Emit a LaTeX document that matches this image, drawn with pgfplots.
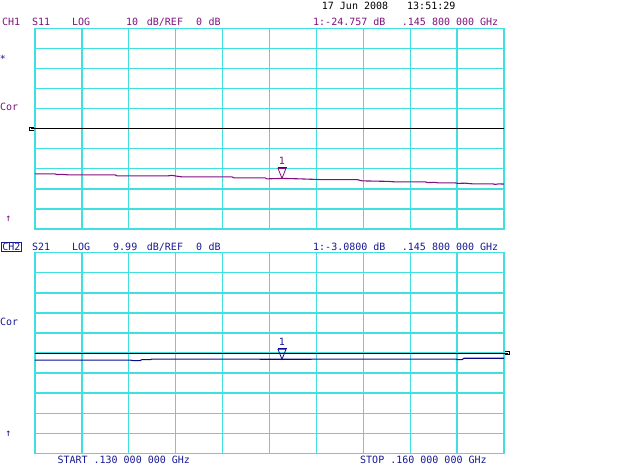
\documentclass[border=0pt]{standalone}
\usepackage{pgfplots}
\pgfplotsset{compat=1.18}
\usepackage{fontspec}
\setmainfont{DejaVu Sans Mono}
\definecolor{gridc}{RGB}{64,224,224}
\definecolor{purp}{RGB}{128,16,128}
\definecolor{navyt}{RGB}{24,24,150}
\definecolor{navyl}{RGB}{10,10,140}

\pgfdeclareplotmark{nabla}{%
  \pgfpathmoveto{\pgfqpoint{-4pt}{10pt}}\pgfpathlineto{\pgfqpoint{4pt}{10pt}}%
  \pgfpathlineto{\pgfqpoint{0pt}{0pt}}\pgfpathclose\pgfusepathqstroke}
\pgfdeclareplotmark{nbar}{%
  \pgfpathmoveto{\pgfqpoint{-4.5pt}{10.8pt}}\pgfpathlineto{\pgfqpoint{4.5pt}{10.8pt}}\pgfusepathqstroke}
\pgfdeclareplotmark{refL}{%
  \pgfpathmoveto{\pgfqpoint{-1pt}{1.8pt}}\pgfpathlineto{\pgfqpoint{-5.5pt}{1.8pt}}%
  \pgfpathlineto{\pgfqpoint{-5.5pt}{-1.8pt}}\pgfpathlineto{\pgfqpoint{-1pt}{-1.8pt}}\pgfusepathqstroke
  \pgfpathmoveto{\pgfqpoint{-4pt}{0pt}}\pgfpathlineto{\pgfqpoint{0pt}{0pt}}\pgfusepathqstroke}
\pgfdeclareplotmark{refR}{%
  \pgfpathmoveto{\pgfqpoint{1pt}{1.8pt}}\pgfpathlineto{\pgfqpoint{5.5pt}{1.8pt}}%
  \pgfpathlineto{\pgfqpoint{5.5pt}{-1.8pt}}\pgfpathlineto{\pgfqpoint{1pt}{-1.8pt}}\pgfusepathqstroke
  \pgfpathmoveto{\pgfqpoint{4pt}{0pt}}\pgfpathlineto{\pgfqpoint{0pt}{0pt}}\pgfusepathqstroke}

\pgfplotsset{vna/.style={scale only axis, width=469pt, height=200.5pt,
  xmin=0.130, xmax=0.160,
  xtick={0.130,0.133,0.136,0.139,0.142,0.145,0.148,0.151,0.154,0.157,0.160},
  xticklabels={}, yticklabels={},
  grid=major, major grid style={gridc, line width=1.3pt},
  axis line style={gridc, line width=1.3pt}, tick style={draw=none},
  clip=false, anchor=south west}}

\begin{document}
\begin{tikzpicture}[font=\fontsize{10}{12}\selectfont]
\path[use as bounding box] (0pt,0pt) rectangle (640pt,465pt);

% ---------- Channel 1 : S11 ----------
\begin{axis}[vna, at={(35pt,236pt)}, ymin=-50, ymax=50,
  ytick={-50,-40,-30,-20,-10,0,10,20,30,40,50}]
\addplot[black, line width=1pt, mark=none] coordinates {(0.130,0) (0.160,0)};
\addplot[black, line width=0.8pt, only marks, mark=refL] coordinates {(0.130,0)};
\addplot[purp, line width=1.1pt, mark=none] coordinates {
(0.13000,-22.50) (0.13128,-22.50) (0.13141,-22.85) (0.13173,-22.75)
(0.13211,-23.00) (0.13512,-23.00) (0.13525,-23.50) (0.13851,-23.50)
(0.13876,-23.25) (0.13902,-23.60) (0.13940,-24.00) (0.14260,-24.00)
(0.14273,-24.50) (0.14471,-24.50) (0.14484,-25.00) (0.14580,-24.757)
(0.14695,-25.00) (0.14823,-25.35) (0.15060,-25.35) (0.15092,-26.00)
(0.15258,-26.25) (0.15303,-26.50) (0.15495,-26.50) (0.15514,-26.85)
(0.15559,-26.75) (0.15578,-27.00) (0.15687,-27.00) (0.15706,-27.25)
(0.15751,-27.15) (0.15802,-27.50) (0.15930,-27.50) (0.15942,-27.75)
(0.15968,-27.50) (0.16000,-27.60)};
\addplot[purp, line width=0.8pt, only marks, mark=nabla] coordinates {(0.1458,-24.757)};
\addplot[navyt, line width=0.8pt, only marks, mark=nbar] coordinates {(0.1458,-24.757)};
\node[purp, anchor=base, yshift=14pt] at (axis cs:0.1458,-24.757) {1};
\end{axis}

% ---------- Channel 2 : S21 ----------
\begin{axis}[vna, at={(35pt,11.7pt)}, ymin=-49.95, ymax=49.95,
  ytick={-49.95,-39.96,-29.97,-19.98,-9.99,0,9.99,19.98,29.97,39.96,49.95}]
\addplot[black, line width=1pt, mark=none] coordinates {(0.130,0) (0.160,0)};
\addplot[black, line width=0.8pt, only marks, mark=refR] coordinates {(0.160,0)};
\addplot[navyl, line width=1.1pt, mark=none] coordinates {
(0.13000,-3.50) (0.13608,-3.50) (0.13627,-3.75) (0.13672,-3.75)
(0.13684,-3.30) (0.13736,-3.30) (0.13748,-3.00) (0.14580,-3.08)
(0.15693,-3.00) (0.15706,-3.30) (0.15731,-3.30) (0.15744,-2.60)
(0.16000,-2.60)};
\addplot[navyl, line width=0.8pt, only marks, mark=nabla] coordinates {(0.1458,-3.08)};
\addplot[navyl, line width=0.8pt, only marks, mark=nbar] coordinates {(0.1458,-3.08)};
\node[navyt, anchor=base, yshift=13.5pt] at (axis cs:0.1458,-3.08) {1};
\end{axis}

% ---------- annotations ----------
\node[anchor=base west, inner sep=0] at (321.7pt,455pt) {17 Jun 2008};
\node[anchor=base west, inner sep=0] at (407pt,455pt) {13:51:29};

\begin{scope}[purp]
\node[anchor=base west, inner sep=0] at (2pt,439.5pt) {CH1};
\node[anchor=base west, inner sep=0] at (32pt,439.5pt) {S11};
\node[anchor=base west, inner sep=0] at (72pt,439.5pt) {LOG};
\node[anchor=base west, inner sep=0] at (126pt,439.5pt) {10};
\node[anchor=base west, inner sep=0] at (146.7pt,439.5pt) {dB/REF};
\node[anchor=base west, inner sep=0] at (196pt,439.5pt) {0};
\node[anchor=base west, inner sep=0] at (208.3pt,439.5pt) {dB};
\node[anchor=base west, inner sep=0] at (313pt,439.5pt) {1:-24.757 dB};
\node[anchor=base west, inner sep=0] at (401.7pt,439.5pt) {.145 800 000 GHz};
\node[anchor=base west, inner sep=0] at (0pt,354.3pt) {Cor};
\node[inner sep=0] at (8.5pt,245.7pt) {↑};
\end{scope}
\node[navyt, inner sep=0] at (3pt,406pt) {*};

\begin{scope}[navyt]
\node[anchor=base west, inner sep=0.8pt, draw=navyt, line width=0.8pt] at (1.2pt,214.5pt) {CH2};
\node[anchor=base west, inner sep=0] at (32pt,214.5pt) {S21};
\node[anchor=base west, inner sep=0] at (72pt,214.5pt) {LOG};
\node[anchor=base west, inner sep=0] at (113pt,214.5pt) {9.99};
\node[anchor=base west, inner sep=0] at (146.7pt,214.5pt) {dB/REF};
\node[anchor=base west, inner sep=0] at (196pt,214.5pt) {0};
\node[anchor=base west, inner sep=0] at (208.3pt,214.5pt) {dB};
\node[anchor=base west, inner sep=0] at (313pt,214.5pt) {1:-3.0800 dB};
\node[anchor=base west, inner sep=0] at (401.7pt,214.5pt) {.145 800 000 GHz};
\node[anchor=base west, inner sep=0] at (0pt,139pt) {Cor};
\node[inner sep=0] at (8.5pt,30.7pt) {↑};
\node[anchor=base west, inner sep=0] at (57.3pt,1.5pt) {START .130 000 000 GHz};
\node[anchor=base west, inner sep=0] at (360pt,1.5pt) {STOP .160 000 000 GHz};
\end{scope}
\end{tikzpicture}
\end{document}
